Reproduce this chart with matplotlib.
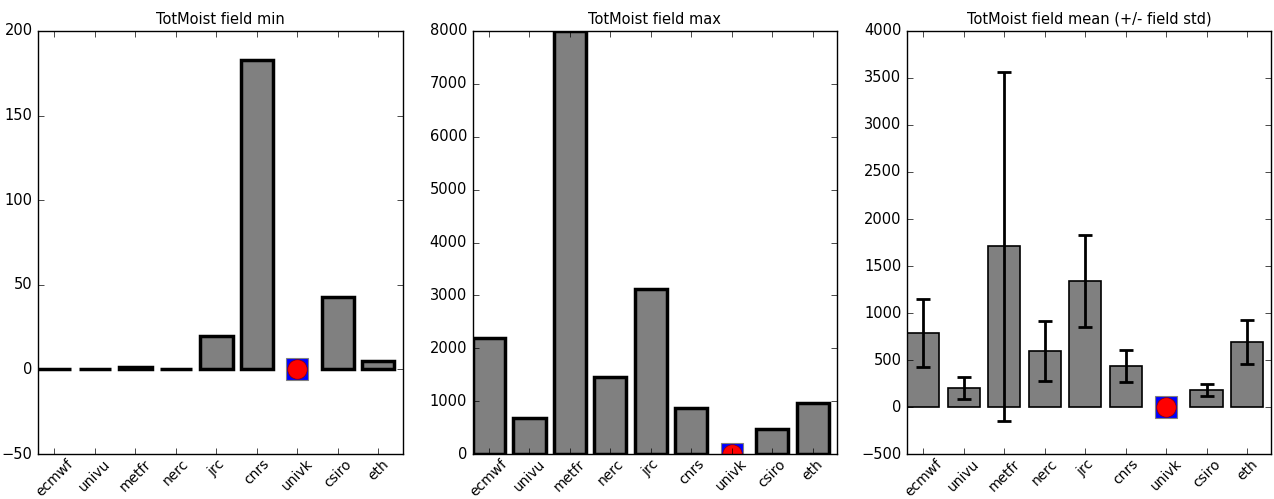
import matplotlib
matplotlib.use('Agg')
import matplotlib.pyplot as plt
import numpy as np

plt.style.use('classic')

models = ['ecmwf', 'univu', 'metfr', 'nerc', 'jrc', 'cnrs', 'univk', 'csiro', 'eth']
# univk has no value -> marker only
field_min = [0.5, 0.3, 1.5, 0.5, 20, 183, np.nan, 43, 5]
field_max = [2190, 680, 8000, 1460, 3120, 870, np.nan, 475, 975]
field_mean = [787, 202, 1710, 596, 1340, 440, np.nan, 185, 690]
field_std = [362, 117, 1855, 320, 490, 170, np.nan, 65, 235]
missing = 'univk'

x = np.arange(len(models))

fig = plt.figure(figsize=(12.74, 4.99), dpi=100)
fig.patch.set_facecolor('white')

def panel(rect, vals, title, ylim, yticks, lw, err=None):
    ax = fig.add_axes(rect)
    v = np.array(vals, dtype=float)
    ok = ~np.isnan(v)
    ax.bar(x[ok], v[ok], 0.8, align='edge', color='gray', edgecolor='black', linewidth=lw)
    if err is not None:
        e = np.array(err, dtype=float)
        ax.errorbar(x[ok] + 0.4, v[ok], yerr=e[ok], fmt='none', ecolor='black',
                    elinewidth=2, capsize=5, capthick=2)
    i = models.index(missing)
    ax.plot([i + 0.4], [0], 's', color='blue', ms=16, mec='gray', mew=0.8)
    ax.plot([i + 0.4], [0], 'o', color='red', ms=14, mec='darkred', mew=0.5)
    ax.set_xlim(0, 9)
    ax.set_ylim(*ylim)
    ax.set_yticks(yticks)
    ax.set_xticks(x + 0.4)
    ax.set_xticklabels(models, rotation=45, ha='center', fontsize=10)
    ax.tick_params(axis='x', pad=2)
    ax.tick_params(axis='y', labelsize=10.5)
    ax.set_title(title, fontsize=10.5)
    return ax

panel([0.030, 0.090, 0.286, 0.848], field_min, 'TotMoist field min',
      (-50, 200), np.arange(-50, 201, 50), 2.5)
panel([0.371, 0.090, 0.286, 0.848], field_max, 'TotMoist field max',
      (0, 8000), np.arange(0, 8001, 1000), 2.5)
panel([0.712, 0.090, 0.286, 0.848], field_mean, 'TotMoist field mean (+/- field std)',
      (-500, 4000), np.arange(-500, 4001, 500), 1.2, err=field_std)

fig.savefig('out.png', dpi=100, facecolor='white')
